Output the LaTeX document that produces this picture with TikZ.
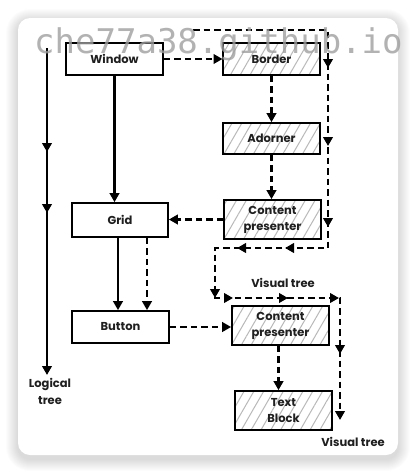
\documentclass[tikz,border=0pt]{standalone}
\usepackage{fontspec}
\setmainfont{Poppins}
\newfontfamily\wmfont{DejaVu Sans Mono}
\usetikzlibrary{arrows.meta,patterns.meta,decorations.markings,calc}
\begin{document}
\begin{tikzpicture}[x=1pt,y=-1pt,
  tri/.tip={Triangle[length=9pt,width=9.5pt]},
  ln/.style={line width=2.3pt,black},
  dln/.style={ln,dash pattern=on 6.5pt off 4pt},
  box/.style={draw=black,line width=1.7pt,fill=white,minimum width=97pt,inner sep=0pt,align=center,
    font=\bfseries\fontsize{11.5}{16}\selectfont,text=black!88},
  hatch/.style={box,pattern={Lines[angle=60,distance=8.5pt,line width=1pt]},pattern color=gray!55,preaction={fill=white}},
  lbl/.style={inner sep=0pt,align=center,font=\bfseries\fontsize{11.5}{17}\selectfont,text=black!88}]
\useasboundingbox (0,0) rectangle (416,474);
\fill[white] (0,0) rectangle (416,474);
% card shadow
\foreach \s in {1,...,12}
  \fill[black,opacity=0.012,rounded corners=12pt+\s pt] (18-\s,21-\s) rectangle (398+\s,459+\s);
\fill[white,rounded corners=12pt] (18,18) rectangle (398,455);

% nodes
\node[box,minimum height=32pt] (win) at (114.5,59) {Window};
\node[hatch,minimum height=32pt] (border) at (271.5,59) {Border};
\node[hatch,minimum height=31pt] (adorner) at (271.5,138.5) {Adorner};
\node[hatch,minimum height=39pt] (cp1) at (272.5,219.5) {Content\\presenter};
\node[box,minimum height=34pt,minimum width=96pt] (grid) at (120,220) {Grid};
\node[box,minimum height=32pt] (button) at (120.5,327) {Button};
\node[hatch,minimum height=39pt] (cp2) at (280.5,325.5) {Content\\presenter};
\node[hatch,minimum height=39pt] (tb) at (283.5,410.5) {Text\\Block};

% logical connectors
\draw[ln,-tri] (win.south) -- (win.south |- grid.north);
\draw[ln,-tri] ($(grid.south)+(-2,0)$) -- ($(button.north)+(-2.5,0)$);
\draw[dln,-tri] ($(grid.south)+(27,0)$) -- ($(button.north)+(26.5,0)$);
\draw[dln,-tri] (win.east) -- (win.east -| border.west);
\draw[dln,-tri] (border.south) -- (adorner.north);
\draw[dln,-tri] (adorner.south) -- (adorner.south |- cp1.north);
\draw[dln,-tri] (cp1.west) -- (cp1.west -| grid.east);
\draw[dln,-tri] (button.east) -- (button.east -| cp2.west);
\draw[dln,-tri] ($(cp2.south)+(-2,0)$) -- ($(cp2.south |- tb.north)+(-2,0)$);

% logical tree
\coordinate (lt0) at (47,48);
\coordinate (lt1) at (47,375);
\draw[ln,-tri,postaction={decorate},decoration={markings,
   mark=at position 104pt with {\arrow{tri}},
   mark=at position 165pt with {\arrow{tri}}}] (lt0) -- (lt1);
\node[lbl] (ltl) at (50,391) {Logical\\tree};

% visual tree path
\coordinate (v0) at (193,30);
\coordinate (v1) at (328,30);
\coordinate (v2) at (328,248);
\coordinate (v3) at (215,248);
\coordinate (v4) at (215,298);
\coordinate (v5) at (340,298);
\coordinate (v6) at (340,420);
\draw[dln,-tri,postaction={decorate},decoration={markings,
   mark=at position 173pt with {\arrow{tri}},
   mark=at position 251pt with {\arrow{tri}},
   mark=at position 332pt with {\arrow{tri}},
   mark=at position 396pt with {\arrow{tri}},
   mark=at position 444pt with {\arrow{tri}},
   mark=at position 516pt with {\arrow{tri}},
   mark=at position 534pt with {\arrow{tri}},
   mark=at position 589pt with {\arrow{tri}},
   mark=at position 640pt with {\arrow{tri}},
   mark=at position 697pt with {\arrow{tri}}}]
   (v0) -- (v1) -- (v2) -- (v3) -- (v4) -- (v5) -- (v6);
\node[lbl] (vt1) at (283,283) {Visual tree};
\node[lbl] (vt2) at (353,442) {Visual tree};

% watermark
\node[anchor=base west,inner sep=0pt,text=gray!75,opacity=0.8,font=\wmfont\fontsize{34}{34}\selectfont] (wm) at (34,53) {che77a38.github.io};
\end{tikzpicture}
\end{document}
